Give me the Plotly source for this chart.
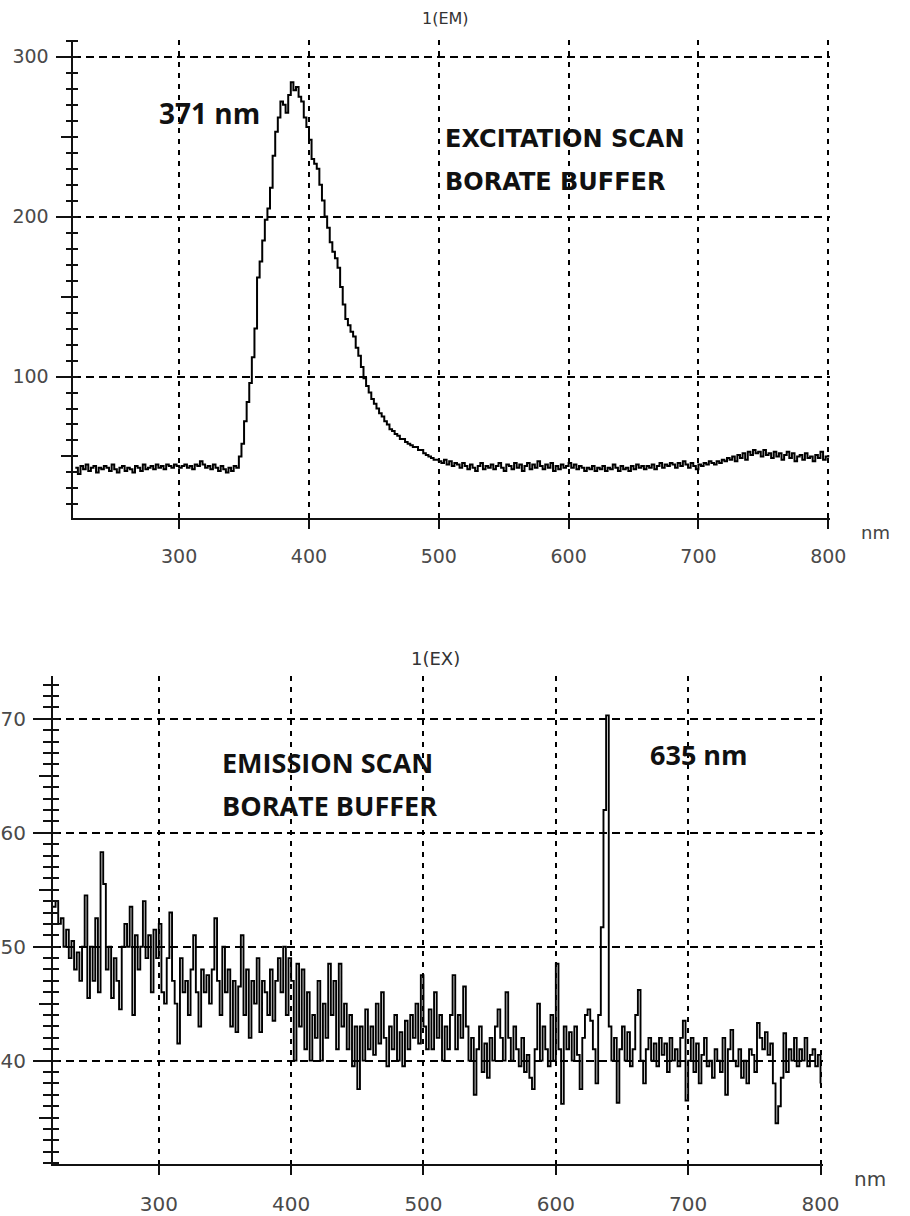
import plotly.graph_objects as go

# ---------------- data ----------------
ex_wavelength = list(range(220, 801, 2))  # nm, 2 nm steps
ex_intensity = [
    43, 39, 44, 42, 45, 41, 43, 44, 40, 43,      # 220-238
    42, 44, 43, 41, 45, 42, 40, 43, 44, 41,      # 240-258
    43, 42, 40, 44, 43, 41, 45, 42, 43, 44,      # 260-278
    42, 45, 43, 44, 42, 45, 44, 43, 45, 44,      # 280-298
    43, 44, 45, 43, 44, 42, 45, 44, 47, 45,      # 300-318
    43, 44, 42, 45, 43, 41, 44, 42, 40, 43,      # 320-338
    41, 44, 43, 50, 58, 72, 84, 96, 112, 130,    # 340-358
    162, 172, 185, 198, 205, 218, 238, 253, 262, 272,  # 360-378
    270, 265, 276, 284, 279, 281, 275, 272, 262, 256,  # 380-398
    248, 236, 233, 230, 220, 210, 200, 193, 184, 178,  # 400-418
    174, 168, 156, 145, 136, 132, 128, 125, 118, 113,  # 420-438
    106, 99, 94, 90, 86, 83, 80, 77, 75, 72,     # 440-458
    70, 67, 66, 64, 63, 61, 61, 59, 58, 57,      # 460-478
    56, 56, 54, 54, 52, 51, 50, 49, 48, 48,      # 480-498
    47, 46, 48, 45, 47, 44, 46, 45, 43, 46,      # 500-518
    44, 42, 45, 43, 41, 44, 46, 42, 44, 43,      # 520-538
    45, 42, 44, 46, 43, 41, 45, 44, 42, 46,      # 540-558
    43, 45, 41, 44, 46, 42, 45, 43, 47, 44,      # 560-578
    42, 45, 43, 46, 41, 44, 42, 45, 43, 44,      # 580-598
    46, 43, 45, 42, 44, 43, 41, 43, 42, 44,      # 600-618
    41, 43, 42, 44, 41, 43, 42, 45, 43, 41,      # 620-638
    44, 42, 43, 41, 44, 42, 45, 43, 44, 42,      # 640-658
    44, 43, 45, 42, 44, 46, 43, 45, 44, 46,      # 660-678
    45, 43, 46, 44, 47, 45, 43, 46, 44, 42,      # 680-698
    45, 44, 46, 45, 47, 46, 45, 47, 46, 48,      # 700-718
    47, 49, 48, 50, 47, 51, 49, 52, 48, 53,      # 720-738
    51, 54, 52, 53, 50, 54, 51, 52, 49, 53,      # 740-758
    50, 52, 48, 51, 53, 49, 52, 47, 50, 51,      # 760-778
    48, 52, 49, 50, 47, 51, 49, 53, 48, 50,      # 780-798
    51,                                          # 800
]

em_wavelength = list(range(220, 801, 2))  # nm, 2 nm steps
em_intensity = [
    53.5, 54, 52, 52.5, 50, 51.5, 49, 50.5, 48, 49.5,        # 220-238
    47, 50, 54.5, 45.5, 50, 47, 52.5, 46, 58.3, 55.5,        # 240-258
    48, 50, 45.5, 49, 47, 44.5, 50, 52, 50, 53.5,            # 260-278
    44, 51, 48, 50, 54, 49, 51, 46, 51.5, 49,                # 280-298
    52, 46, 45, 49, 53, 47, 45, 41.5, 49, 46,                # 300-318
    47, 44, 48, 51, 46, 43, 48, 46, 47.5, 45,                # 320-338
    48, 52.5, 47, 44, 50, 46, 48, 43, 47, 42.5,              # 340-358
    46.5, 51, 44, 48, 42, 47, 45, 49, 42.5, 47,              # 360-378
    46, 44, 48, 43.5, 47, 49, 46, 50, 44, 49,                # 380-398
    47, 40, 48.5, 43, 48, 41, 46, 40, 44, 42,                # 400-418
    47, 40, 45, 42, 48.5, 44, 47, 41, 48.5, 43,              # 420-438
    45, 41, 44, 39.5, 43, 37.5, 43, 40, 44.5, 41,            # 440-458
    43, 40.5, 45, 41.5, 46, 42, 39.5, 43, 41, 44,            # 460-478
    40, 42.5, 39.5, 43.5, 41, 44, 42, 45, 41.5, 47.5,        # 480-498
    43, 41, 44.5, 41, 46, 42, 44, 40, 43, 41,                # 500-518
    44, 47.5, 41, 44, 42, 46.5, 43, 40, 42, 37,              # 520-538
    41, 43, 39, 41.5, 38.5, 42, 40, 43, 44.5, 42,            # 540-558
    40, 46, 42, 40, 43, 41, 39.5, 42, 39, 40.5,              # 560-578
    38.5, 37.5, 41, 45, 40, 43, 41, 39.5, 44, 40,            # 580-598
    48.5, 41, 36.2, 43, 41, 42.5, 40, 43, 40.5, 37.5,        # 600-618
    42, 44, 44.5, 43.5, 41, 38, 44, 51.7, 62, 70.3,          # 620-638
    43, 40, 42, 36.3, 41, 43, 40, 42.5, 39.5, 41,            # 640-658
    44, 46.2, 40, 38, 41, 42, 40, 41.5, 39.5, 42,            # 660-678
    40.5, 41.5, 39, 42, 40, 41, 39.5, 42, 43.5, 36.5,        # 680-698
    40, 42, 39, 41.5, 38, 40.5, 42, 39.5, 40, 38.5,          # 700-718
    41, 40, 39, 42, 37, 41, 42.7, 40, 39.5, 41,              # 720-738
    38.5, 40, 38, 41, 40.5, 39, 43.3, 42, 41, 42.5,          # 740-758
    40.5, 41.5, 38, 34.5, 36, 38.5, 42.4, 39, 41, 40,        # 760-778
    42, 39.5, 41, 40, 42, 39.5, 40.5, 41, 39.5, 40.5,        # 780-798
    38,                                                      # 800
]

x_ticks = [300, 400, 500, 600, 700, 800]
ex_y_major = [100, 200, 300]
ex_y_mid = [50, 150, 250]
em_y_major = [40, 50, 60, 70]
em_y_mid = [35, 45, 55, 65]

W, H = 910, 1216
def px(x):
    return x / W
def py(y):
    return 1 - y / H

LABEL_FONT = dict(family="DejaVu Sans", size=19, color="#4a4a4a")
BIG_FONT = dict(family="DejaVu Sans", size=20, color="#4a4a4a")
LINE_COLOR = "#111111"
GRID_COLOR = "#000000"

fig = go.Figure()
fig.add_trace(go.Scatter(x=ex_wavelength, y=ex_intensity, mode="lines",
                         line=dict(color="black", width=2, shape="hv"),
                         xaxis="x", yaxis="y", showlegend=False))
fig.add_trace(go.Scatter(x=em_wavelength, y=em_intensity, mode="lines",
                         line=dict(color="black", width=1.9, shape="hv"),
                         xaxis="x2", yaxis="y2", showlegend=False))

top_xdom = [px(73), px(846)]
top_ydom = [py(521), py(40)]
bot_xdom = [px(52), px(838)]
bot_ydom = [py(1172), py(680)]
top_yrange = [11.8, 310.6]
bot_yrange = [30.9, 73.8]

xcommon = dict(tickmode="array", tickvals=x_ticks, ticks="outside", ticklen=9,
               tickwidth=2, tickcolor=LINE_COLOR, showline=True, linecolor=LINE_COLOR,
               linewidth=2, showgrid=True, gridcolor=GRID_COLOR, gridwidth=2.2,
               griddash="5px,6px", zeroline=False, ticklabelstandoff=12)

fig.update_layout(
    width=W, height=H, margin=dict(l=0, r=0, t=0, b=0),
    paper_bgcolor="white", plot_bgcolor="white", showlegend=False,
    xaxis=dict(domain=top_xdom, range=[218.6, 801.6], anchor="y",
               tickfont=LABEL_FONT, **xcommon),
    yaxis=dict(domain=top_ydom, range=top_yrange, anchor="x",
               tickmode="array", tickvals=ex_y_major, ticks="outside", ticklen=15,
               tickwidth=2, tickcolor=LINE_COLOR, tickfont=LABEL_FONT,
               showline=True, linecolor=LINE_COLOR, linewidth=2,
               showgrid=True, gridcolor=GRID_COLOR, gridwidth=1.8, griddash="8px,5px",
               zeroline=False, ticklabelstandoff=4,
               minor=dict(dtick=10, tick0=0, ticks="outside", ticklen=5,
                          tickwidth=1.8, tickcolor=LINE_COLOR, showgrid=False)),
    yaxis3=dict(domain=top_ydom, range=top_yrange, anchor="x", overlaying="y",
                side="left", tickmode="array", tickvals=ex_y_mid, ticks="outside",
                ticklen=11, tickwidth=2, tickcolor=LINE_COLOR,
                showticklabels=False, showgrid=False, showline=False, zeroline=False,
                minor=dict(dtick=10, tick0=0, ticks="inside", ticklen=5,
                           tickwidth=1.8, tickcolor=LINE_COLOR, showgrid=False)),
    xaxis2=dict(domain=bot_xdom, range=[220, 801.5], anchor="y2",
                tickfont=BIG_FONT, **xcommon),
    yaxis2=dict(domain=bot_ydom, range=bot_yrange, anchor="x2",
                tickmode="array", tickvals=em_y_major, ticks="outside", ticklen=18,
                tickwidth=2, tickcolor=LINE_COLOR, tickfont=BIG_FONT,
                showline=True, linecolor=LINE_COLOR, linewidth=2,
                showgrid=True, gridcolor=GRID_COLOR, gridwidth=1.8, griddash="8px,5px",
                zeroline=False, ticklabelstandoff=3,
                minor=dict(dtick=1, tick0=0, ticks="outside", ticklen=8,
                           tickwidth=1.8, tickcolor=LINE_COLOR, showgrid=False)),
    yaxis4=dict(domain=bot_ydom, range=bot_yrange, anchor="x2", overlaying="y2",
                side="left", tickmode="array", tickvals=em_y_mid, ticks="outside",
                ticklen=13, tickwidth=2, tickcolor=LINE_COLOR,
                showticklabels=False, showgrid=False, showline=False, zeroline=False,
                minor=dict(dtick=1, tick0=0, ticks="inside", ticklen=6,
                           tickwidth=1.8, tickcolor=LINE_COLOR, showgrid=False)),
)

# empty traces so the overlay tick axes render
fig.add_trace(go.Scatter(x=[None], y=[None], xaxis="x", yaxis="y3", showlegend=False))
fig.add_trace(go.Scatter(x=[None], y=[None], xaxis="x2", yaxis="y4", showlegend=False))

ann = []
BOLD_A = dict(family="DejaVu Sans", size=24, color="#111111")
BOLD_C = dict(family="Open Sans", size=28, color="#111111")
BOLD_D = dict(family="Open Sans", size=27, color="#111111")
ann.append(dict(x=323, y=264.6, xref="x", yref="y", text="<b>371 nm</b>",
                showarrow=False, font=BOLD_C, xanchor="center", yanchor="middle"))
ann.append(dict(x=503, y=248.4, xref="x", yref="y", text="<b>EXCITATION SCAN</b>",
                showarrow=False, font=BOLD_A, xanchor="left", yanchor="middle"))
ann.append(dict(x=503, y=221.7, xref="x", yref="y", text="<b>BORATE BUFFER</b>",
                showarrow=False, font=BOLD_A, xanchor="left", yanchor="middle"))
ann.append(dict(x=346.5, y=66.2, xref="x2", yref="y2", text="<b>EMISSION SCAN</b>",
                showarrow=False, font=BOLD_D, xanchor="left", yanchor="middle"))
ann.append(dict(x=346.5, y=62.4, xref="x2", yref="y2", text="<b>BORATE BUFFER</b>",
                showarrow=False, font=BOLD_D, xanchor="left", yanchor="middle"))
ann.append(dict(x=708, y=66.9, xref="x2", yref="y2", text="<b>635 nm</b>",
                showarrow=False, font=BOLD_D, xanchor="center", yanchor="middle"))
ann.append(dict(x=px(453), y=py(19), xref="paper", yref="paper", text="1(EM)",
                showarrow=False, font=dict(family="DejaVu Sans", size=16, color="#333333"),
                xanchor="center", yanchor="middle"))
ann.append(dict(x=px(443), y=py(663), xref="paper", yref="paper", text="1(EX)",
                showarrow=False, font=dict(family="DejaVu Sans", size=18, color="#333333"),
                xanchor="center", yanchor="middle"))
ann.append(dict(x=px(892), y=py(536), xref="paper", yref="paper", text="nm",
                showarrow=False, font=dict(family="DejaVu Sans", size=18, color="#444444"),
                xanchor="center", yanchor="middle"))
ann.append(dict(x=px(887), y=py(1187), xref="paper", yref="paper", text="nm",
                showarrow=False, font=dict(family="DejaVu Sans", size=20, color="#444444"),
                xanchor="center", yanchor="middle"))
fig.update_layout(annotations=ann)

fig.write_html("out.html")
